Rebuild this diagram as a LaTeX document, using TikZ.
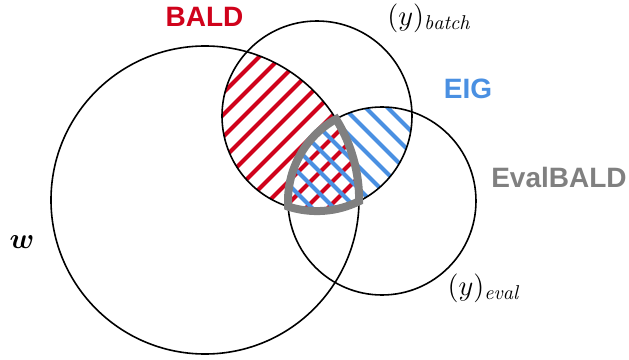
\documentclass[tikz,border=0pt]{standalone}
\usepackage{amsmath}
\usepackage{bm}
\usepackage{fontspec}
\newfontfamily\labelfont{Liberation Sans}
\usetikzlibrary{calc}
\definecolor{baldred}{RGB}{208,2,27}
\definecolor{eigblue}{RGB}{74,144,226}
\definecolor{evalgray}{RGB}{128,128,128}

\begin{document}
\begin{tikzpicture}[x=0.5pt, y=0.5pt,
  venn/.style={line width=0.8pt},
  baldhatch/.style={baldred, line width=2pt},
  eighatch/.style={eigblue, line width=2pt},
  evalline/.style={evalgray, line width=4pt, line join=miter},
  setname/.style={font=\labelfont\bfseries\fontsize{14}{16}\selectfont, inner sep=0pt},
  varname/.style={font=\Large, inner sep=0pt}]
\useasboundingbox (0,0) rectangle (629,360);
\coordinate (wc) at (205,160);
\coordinate (bc) at (317,244);
\coordinate (ec) at (382,159);
% BALD: w and y_batch
\begin{scope}
  \clip (wc) circle (154);
  \clip (bc) circle (95);
  \foreach \c in {-242,-220,...,100}
    \draw[baldhatch] (150,150+\c) -- (420,420+\c);
\end{scope}
% EIG: y_batch and y_eval
\begin{scope}
  \clip (bc) circle (95);
  \clip (ec) circle (94);
  \foreach \c in {420,442,...,700}
    \draw[eighatch] (250,\c-250) -- (500,\c-500);
\end{scope}
\draw[venn] (wc) circle (154);
\draw[venn] (bc) circle (95);
\draw[venn] (ec) circle (94);
% EvalBALD: all three
\draw[evalline] ($(ec)+(119.3:94)$)
  arc[start angle=119.3, end angle=183.4, radius=94]
  arc[start angle=252.3, end angle=296.3, radius=95]
  arc[start angle=-0.4, end angle=31.8, radius=154] -- cycle;
\node[setname, text=baldred] (bald) at (204.5,343.3) {BALD};
\node[setname, text=eigblue] (eig) at (468,271) {EIG};
\node[setname, text=evalgray] (evalbald) at (559,183) {EvalBALD};
\node[varname] (ybatch) at (429,342) {$(y)_{\mathit{batch}}$};
\node[varname] (yeval) at (483.4,72) {$(y)_{\mathit{eval}}$};
\node[varname] (wlabel) at (22,118) {$\bm{w}$};
\end{tikzpicture}
\end{document}
